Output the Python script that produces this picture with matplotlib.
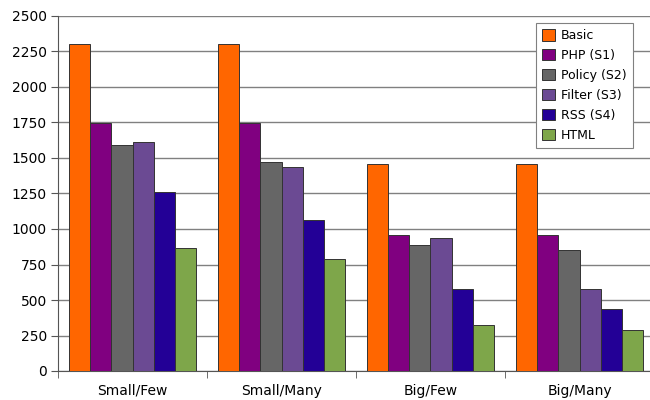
import matplotlib.pyplot as plt
import numpy as np

grupos = ['Small/Few', 'Small/Many', 'Big/Few', 'Big/Many']
series = ['Basic', 'PHP (S1)', 'Policy (S2)', 'Filter (S3)', 'RSS (S4)', 'HTML']
basic = [2300, 2300, 1455, 1455]
php = [1745, 1745, 955, 955]
policy = [1595, 1470, 890, 850]
filtro = [1615, 1435, 940, 580]
rss = [1260, 1060, 580, 435]
html = [865, 790, 325, 290]
cores = ['#ff6600', '#800080', '#666666', '#6b4a93', '#230096', '#7ea64a']

valores = [basic, php, policy, filtro, rss, html]

fig = plt.figure(figsize=(6.5, 4), dpi=100)
ax = fig.add_axes([58/650, 29/400, 596/650, 355/400])

x = np.arange(len(grupos))
largura = 1/7
for i, (nome, v) in enumerate(zip(series, valores)):
    pos = x - 0.5 + largura * (i + 1)
    ax.bar(pos, v, width=largura, color=cores[i], edgecolor='#333333',
           linewidth=0.7, label=nome, zorder=3)

ax.set_xlim(-0.5, len(grupos) - 0.5)
ax.set_ylim(0, 2500)
ax.set_yticks(np.arange(0, 2501, 250))
ax.set_xticks(x)
ax.set_xticklabels(grupos)
ax.set_xticks(np.arange(-0.5, len(grupos)), minor=True)
ax.tick_params(axis='x', which='major', length=0, pad=9, labelsize=10)
ax.tick_params(axis='x', which='minor', length=5, color='#555555')
ax.tick_params(axis='y', length=5, color='#555555', labelsize=10, pad=3)
ax.grid(axis='y', color='#808080', linewidth=1, zorder=0)
for lado in ['top', 'right']:
    ax.spines[lado].set_visible(False)
ax.spines['left'].set_color('#555555')
ax.spines['bottom'].set_color('#555555')

leg = ax.legend(loc='upper left', bbox_to_anchor=(536/650, 1 - 23/400),
                bbox_transform=fig.transFigure, fontsize=9, frameon=True,
                fancybox=False, edgecolor='#808080', framealpha=1,
                handlelength=1, handleheight=1, handletextpad=0.5,
                labelspacing=0.55, borderpad=0.5, borderaxespad=0)
leg.get_frame().set_linewidth(0.8)

plt.savefig('out.png', dpi=100)
